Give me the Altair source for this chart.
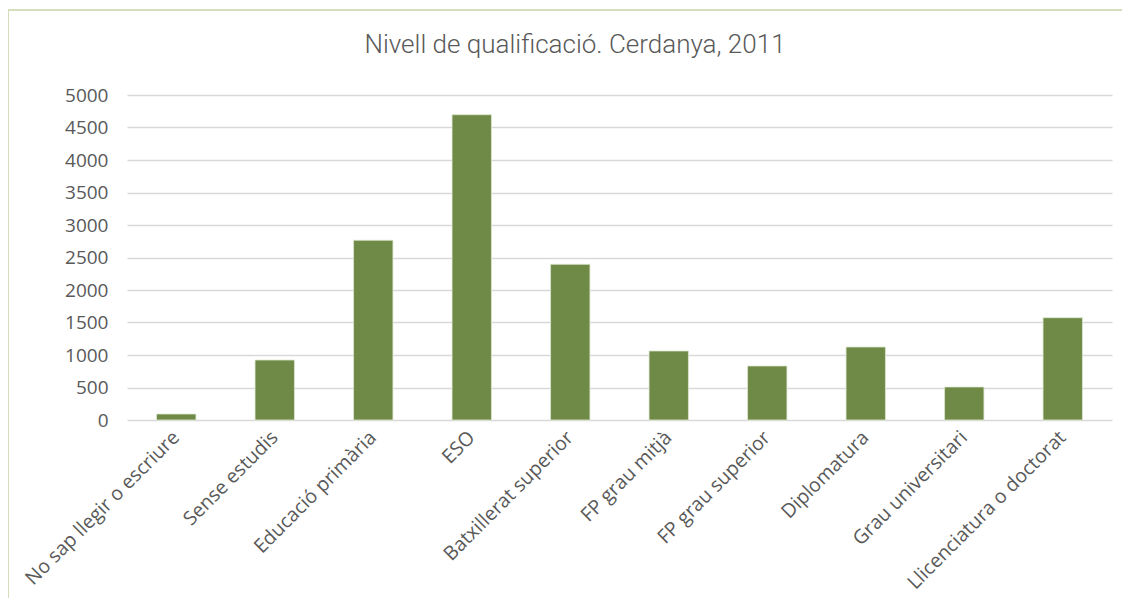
import altair as alt
import pandas as pd

categories = [
    "No sap llegir o escriure",
    "Sense estudis",
    "Educació primària",
    "ESO",
    "Batxillerat superior",
    "FP grau mitjà",
    "FP grau superior",
    "Diplomatura",
    "Grau universitari",
    "Llicenciatura o doctorat",
]
values = [92, 923, 2765, 4697, 2395, 1062, 831, 1123, 508, 1574]
y_ticks = [0, 500, 1000, 1500, 2000, 2500, 3000, 3500, 4000, 4500, 5000]
title_text = ["Nivell de qualificació. Cerdanya, 2011"]

df = pd.DataFrame({"cat": categories, "val": values})

bars = alt.Chart(df).mark_bar(color="#6F8A47", stroke="#DDE6CF", strokeWidth=0.8).encode(
    x=alt.X(
        "cat:N",
        sort=categories,
        title=None,
        scale=alt.Scale(paddingInner=0.6, paddingOuter=0.3),
        axis=alt.Axis(
            labelAngle=-45,
            labelAlign="right",
            labelBaseline="middle",
            labelFont="Open Sans",
            labelFontSize=19.5,
            labelColor="#595959",
            labelLimit=0,
            ticks=False,
            domain=False,
            labelPadding=14,
            grid=False,
        ),
    ),
    y=alt.Y(
        "val:Q",
        title=None,
        scale=alt.Scale(domain=[0, 5000], nice=False),
        axis=alt.Axis(
            values=y_ticks,
            format="d",
            labelFont="Open Sans",
            labelFontSize=19,
            labelColor="#595959",
            ticks=False,
            domain=False,
            labelPadding=19,
            grid=True,
            gridColor="#D9D9D9",
            gridWidth=1.5,
        ),
    ),
)

border = alt.Chart(pd.DataFrame({"a": [0]})).mark_rect(
    fill="transparent", stroke="#D4DEBC", strokeWidth=2
).encode(
    x=alt.value(-119), x2=alt.value(1100), y=alt.value(-85), y2=alt.value(600)
)

title = alt.Chart(pd.DataFrame({"t": title_text})).mark_text(
    font="Roboto",
    fontWeight=300,
    fontSize=26,
    color="#595959",
    align="center",
    baseline="middle",
).encode(
    text="t:N",
    x=alt.value(448),
    y=alt.value(-50),
)

chart = alt.layer(border, bars, title).properties(
    width=985,
    height=325,
    padding={"left": 119, "top": 87, "right": 10, "bottom": 178},
    autosize=alt.AutoSizeParams(type="none"),
    view=alt.ViewBackground(stroke="transparent", strokeWidth=0),
).configure_view(stroke="transparent", strokeWidth=0).configure(background="white")

chart.save("out.html", embed_options={"renderer": "svg", "actions": False})
